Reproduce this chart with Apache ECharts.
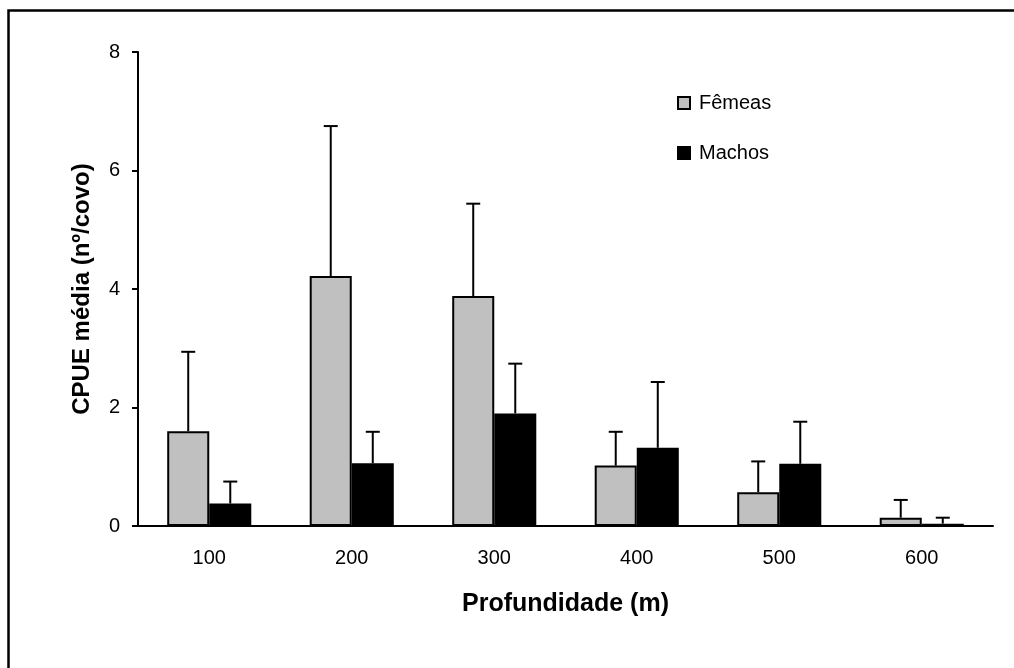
<!DOCTYPE html>
<html lang="pt">
<head>
    <meta charset="UTF-8">
    <title>CPUE média por profundidade</title>
    <script src="https://cdn.jsdelivr.net/npm/echarts@6/dist/echarts.min.js"></script>
    <style type="text/css">
        html, body { margin: 0; padding: 0; background: #fff; }
        #box { width: 1014px; height: 668px; }
    </style>
</head>
<body>
    <div id="box"></div>
<script>
    // dados
    var profundidades = ['100', '200', '300', '400', '500', '600'];
    var femeas = [1.60, 4.22, 3.88, 1.02, 0.57, 0.14];
    var machos = [0.38, 1.06, 1.90, 1.32, 1.05, 0.04];
    // desvio (só a parte de cima é desenhada)
    var femeasDp = [1.34, 2.53, 1.56, 0.57, 0.52, 0.30];
    var machosDp = [0.37, 0.53, 0.84, 1.11, 0.71, 0.10];
    var yTicks = [0, 2, 4, 6, 8];

    var fonte = 'Liberation Sans, Arial, sans-serif';
    var larguraBarra = 0.295;

    function errData(vals, dp) {
        var out = [];
        for (let i = 0; i < vals.length; i++) {
            out.push([i, vals[i], vals[i] + dp[i]]);
        }
        return out;
    }

    function errSeries(vals, dp, lado) {
        return {
            type: 'custom',
            name: 'err' + lado,
            data: errData(vals, dp),
            encode: { x: 0, y: [1, 2] },
            z: 5,
            silent: true,
            renderItem: function (params, api) {
                var base = api.coord([api.value(0), api.value(1)]);
                var topo = api.coord([api.value(0), api.value(2)]);
                var catW = api.size([1, 0])[0];
                var x = base[0] + lado * catW * larguraBarra / 2;
                var style = { stroke: '#000', lineWidth: 2 };
                return {
                    type: 'group',
                    children: [
                        { type: 'line', shape: { x1: x, y1: base[1], x2: x, y2: topo[1] }, style: style },
                        { type: 'line', shape: { x1: x - 7, y1: topo[1], x2: x + 7, y2: topo[1] }, style: style }
                    ]
                };
            }
        };
    }

    var mychart = echarts.init(document.getElementById('box'));
    mychart.setOption({
        animation: false,
        backgroundColor: '#fff',
        textStyle: { fontFamily: fonte, color: '#000' },
        graphic: [{
            type: 'rect',
            shape: { x: 8.5, y: 10.5, width: 1100, height: 1000 },
            style: { fill: 'none', stroke: '#000', lineWidth: 2.5 },
            silent: true
        }],
        grid: { left: 138, right: 21, top: 52, bottom: 142 },
        legend: {
            orient: 'vertical',
            left: 672,
            top: 88,
            itemGap: 30,
            itemWidth: 12,
            itemHeight: 12,
            icon: 'rect',
            data: ['Fêmeas', 'Machos'],
            textStyle: { fontFamily: fonte, fontSize: 20, color: '#000', padding: [0, 0, 0, 4] }
        },
        xAxis: {
            type: 'category',
            data: profundidades,
            name: 'Profundidade (m)',
            nameLocation: 'middle',
            nameGap: 66,
            nameTextStyle: { fontFamily: fonte, fontSize: 25, fontWeight: 'bold', color: '#000' },
            axisLine: { lineStyle: { color: '#000', width: 2 } },
            axisTick: { length: 6, lineStyle: { color: '#000', width: 2 } },
            axisLabel: { margin: 22, fontFamily: fonte, fontSize: 20, color: '#000' }
        },
        yAxis: {
            type: 'value',
            min: yTicks[0],
            max: yTicks[yTicks.length - 1],
            interval: 2,
            name: 'CPUE média (nº/covo)',
            nameLocation: 'middle',
            nameGap: 44,
            nameTextStyle: { fontFamily: fonte, fontSize: 24, fontWeight: 'bold', color: '#000' },
            splitLine: { show: false },
            axisLine: { show: true, lineStyle: { color: '#000', width: 2 } },
            axisTick: { show: true, length: 6, lineStyle: { color: '#000', width: 2 } },
            axisLabel: { margin: 18, fontFamily: fonte, fontSize: 20, color: '#000' }
        },
        series: [
            {
                name: 'Fêmeas',
                type: 'bar',
                data: femeas,
                barWidth: (larguraBarra * 100) + '%',
                barGap: '0%',
                itemStyle: { color: '#c0c0c0', borderColor: '#000', borderWidth: 2 }
            },
            {
                name: 'Machos',
                type: 'bar',
                data: machos,
                barWidth: (larguraBarra * 100) + '%',
                barGap: '0%',
                itemStyle: { color: '#000', borderColor: '#000', borderWidth: 2 }
            },
            errSeries(femeas, femeasDp, -1),
            errSeries(machos, machosDp, 1)
        ]
    });
</script>
</body>
</html>
